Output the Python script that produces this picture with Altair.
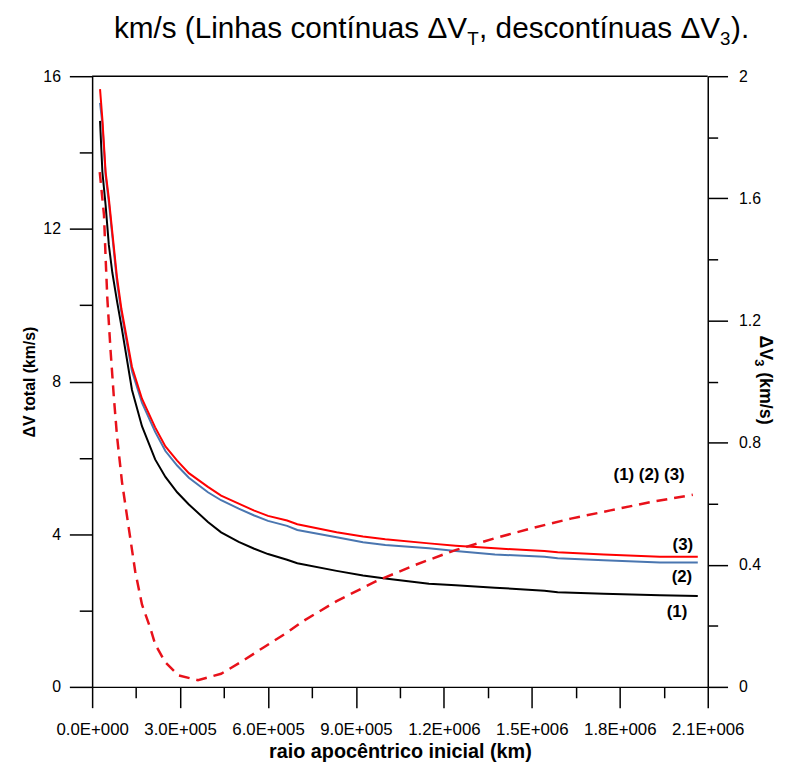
import altair as alt
import pandas as pd

# ---------------- data ----------------
r_solid = [27000, 35000, 46000, 57000, 69000, 85000, 100000, 136000, 170000, 215000,
           250000, 290000, 330000, 395000, 440000, 500000, 553000, 600000, 665000, 700000,
           834000, 924000, 1000000, 1149000, 1240000, 1374000, 1543000, 1588000, 1745000,
           1937000, 2066000]
dvt_1 = [14.83, 13.49, 12.62, 11.58, 10.85, 10.10, 9.45, 7.78, 6.83, 5.96,
         5.50, 5.10, 4.78, 4.32, 4.05, 3.80, 3.62, 3.48, 3.33, 3.24,
         3.04, 2.92, 2.84, 2.70, 2.66, 2.60, 2.52, 2.48, 2.44, 2.40, 2.38]
dvt_2 = [15.30, 14.75, 13.40, 12.70, 11.80, 10.60, 9.80, 8.27, 7.45, 6.68,
         6.18, 5.80, 5.48, 5.10, 4.89, 4.67, 4.49, 4.35, 4.22, 4.11,
         3.92, 3.79, 3.72, 3.63, 3.56, 3.47, 3.41, 3.37, 3.32, 3.26, 3.26]
dvt_3 = [15.66, 14.87, 13.49, 12.80, 11.90, 10.72, 9.90, 8.38, 7.55, 6.80,
         6.30, 5.93, 5.60, 5.24, 5.01, 4.80, 4.62, 4.48, 4.36, 4.26,
         4.05, 3.94, 3.87, 3.76, 3.70, 3.63, 3.56, 3.53, 3.47, 3.41, 3.41]

r_dash = [26000, 40500, 46000, 52000, 63000, 74000, 85000, 102000, 125000, 147000,
          170000, 198000, 215000, 249000, 294000, 361000, 440000, 507000, 586000, 665000,
          721000, 834000, 969000, 1104000, 1239000, 1374000, 1509000, 1633000, 1768000,
          1903000, 2049000]
dv3 = [1.686, 1.545, 1.405, 1.27, 1.10, 0.95, 0.82, 0.67, 0.52, 0.378,
       0.27, 0.194, 0.14, 0.081, 0.038, 0.022, 0.043, 0.081, 0.13, 0.178,
       0.216, 0.281, 0.346, 0.40, 0.448, 0.487, 0.522, 0.551, 0.578, 0.605, 0.629]

x_ticks = [0, 300000, 600000, 900000, 1200000, 1500000, 1800000, 2100000]
x_minor = [150000, 450000, 750000, 1050000, 1350000, 1650000, 1950000]
yl_ticks = [0, 4, 8, 12, 16]
yl_minor = [2, 6, 10, 14]
yr_ticks = [0, 0.4, 0.8, 1.2, 1.6, 2.0]
yr_minor = [0.2, 0.6, 1.0, 1.4, 1.8]

label_names = ["(1) (2) (3)", "(3)", "(2)", "(1)"]
label_r = [1900000, 2015000, 2012000, 1995000]
label_v = [5.55, 3.72, 2.87, 1.97]

series_names = ["(1)", "(2)", "(3)"]
series_colors = ["#000000", "#4A76B0", "#FF0000"]

# ---------------- tables ----------------
rows = []
for name, vals in zip(series_names, [dvt_1, dvt_2, dvt_3]):
    for r, v in zip(r_solid, vals):
        rows.append({"r": r, "v": v, "s": name})
solid_df = pd.DataFrame(rows)
dash_df = pd.DataFrame({"r": r_dash, "v": dv3})
lab_df = pd.DataFrame({"t": label_names, "r": label_r, "v": label_v})
one = pd.DataFrame({"r": [0], "v": [0]})

W, H = 622, 617
FONT = "Liberation Sans"
xdom = alt.Scale(domain=[0, 2100000], nice=False, zero=False)
yl = alt.Scale(domain=[0, 16], nice=False)
yr = alt.Scale(domain=[0, 2], nice=False)

x_main_axis = alt.Axis(orient="bottom", values=x_ticks, tickSize=21, labelPadding=14,
                       labelExpr="replace(format(datum.value, '.1e'), 'e+', 'E+00')",
                       labelFontSize=17, titleFontSize=20, titleFontWeight="bold",
                       titlePadding=4, labelFlush=False, labelOverlap=False)

solid = alt.Chart(solid_df).mark_line(strokeWidth=2).encode(
    x=alt.X("r:Q", scale=xdom, axis=x_main_axis, title="raio apocêntrico inicial (km)"),
    y=alt.Y("v:Q", scale=yl,
            axis=alt.Axis(orient="left", values=yl_ticks, tickSize=23, labelPadding=9,
                          labelFontSize=16, titleFontSize=16, titleFontWeight="bold",
                          titlePadding=5),
            title="ΔV total (km/s)"),
    color=alt.Color("s:N", scale=alt.Scale(domain=series_names, range=series_colors), legend=None),
    order=alt.Order("r:Q"),
)

dashed = alt.Chart(dash_df).mark_line(strokeWidth=2.5, strokeDash=[11, 7], color="#E8111A").encode(
    x=alt.X("r:Q", scale=xdom, axis=None),
    y=alt.Y("v:Q", scale=yr,
            axis=alt.Axis(orient="right", values=yr_ticks, tickSize=20, labelPadding=11,
                          format=".1~f", labelFontSize=16, title=None)),
)

labels = alt.Chart(lab_df).mark_text(font=FONT, fontSize=17, fontWeight="bold", color="black").encode(
    x=alt.X("r:Q", scale=xdom, axis=None),
    y=alt.Y("v:Q", scale=yl, axis=None),
    text="t:N",
)

minor_lb = alt.Chart(one).mark_point(opacity=0).encode(
    x=alt.X("r:Q", scale=xdom,
            axis=alt.Axis(orient="bottom", values=x_minor, tickSize=11, labels=False,
                          domain=False, title=None)),
    y=alt.Y("v:Q", scale=yl,
            axis=alt.Axis(orient="left", values=yl_minor, tickSize=13, labels=False,
                          domain=False, title=None)),
)

minor_r = alt.Chart(one).mark_point(opacity=0).encode(
    x=alt.X("r:Q", scale=xdom, axis=None),
    y=alt.Y("v:Q", scale=yr,
            axis=alt.Axis(orient="right", values=yr_minor, tickSize=10, labels=False,
                          domain=False, title=None)),
)

top_rule = alt.Chart(one).mark_rule(color="black", strokeWidth=1.5).encode(
    x=alt.value(0), x2=alt.value(W), y=alt.value(0)
)


def piece(txt, size, x, y, angle=0, bold=False):
    kw = dict(text=txt, font=FONT, fontSize=size, align="left", baseline="alphabetic",
              color="black")
    if angle:
        kw["angle"] = angle
    if bold:
        kw["fontWeight"] = "bold"
    return alt.Chart(one).mark_text(**kw).encode(x=alt.value(x), y=alt.value(y))


# chart title pieces (real subscripts)
TY = -39
title_parts = [
    piece("km/s (Linhas contínuas ΔV", 30, 22, TY),
    piece("T", 19, 379, TY + 7),
    piece(", descontínuas ΔV", 30, 391, TY),
    piece("3", 19, 634.5, TY + 7),
    piece(").", 30, 645.5, TY),
]

# right axis title pieces, rotated (reads top to bottom)
RX = 675
RY = 262
rtitle_parts = [
    piece("ΔV", 18, RX, RY, angle=90, bold=True),
    piece("3", 13, RX - 5, RY + 24, angle=90, bold=True),
    piece("(km/s)", 18, RX, RY + 37, angle=90, bold=True),
]

chart = alt.layer(
    minor_lb, minor_r, solid, dashed, labels, top_rule, *title_parts, *rtitle_parts
).resolve_scale(x="independent", y="independent").properties(
    width=W, height=H,
    autosize=alt.AutoSizeParams(type="none"),
    padding={"left": 85, "top": 65, "right": 73, "bottom": 74},
).configure_axis(
    grid=False, labelFont=FONT, titleFont=FONT, labelColor="black", titleColor="black",
    domainColor="black", tickColor="black", domainWidth=1.5, tickWidth=1.5,
).configure_view(stroke=None)

chart.save("out.html", embed_options={"renderer": "svg", "actions": False})
